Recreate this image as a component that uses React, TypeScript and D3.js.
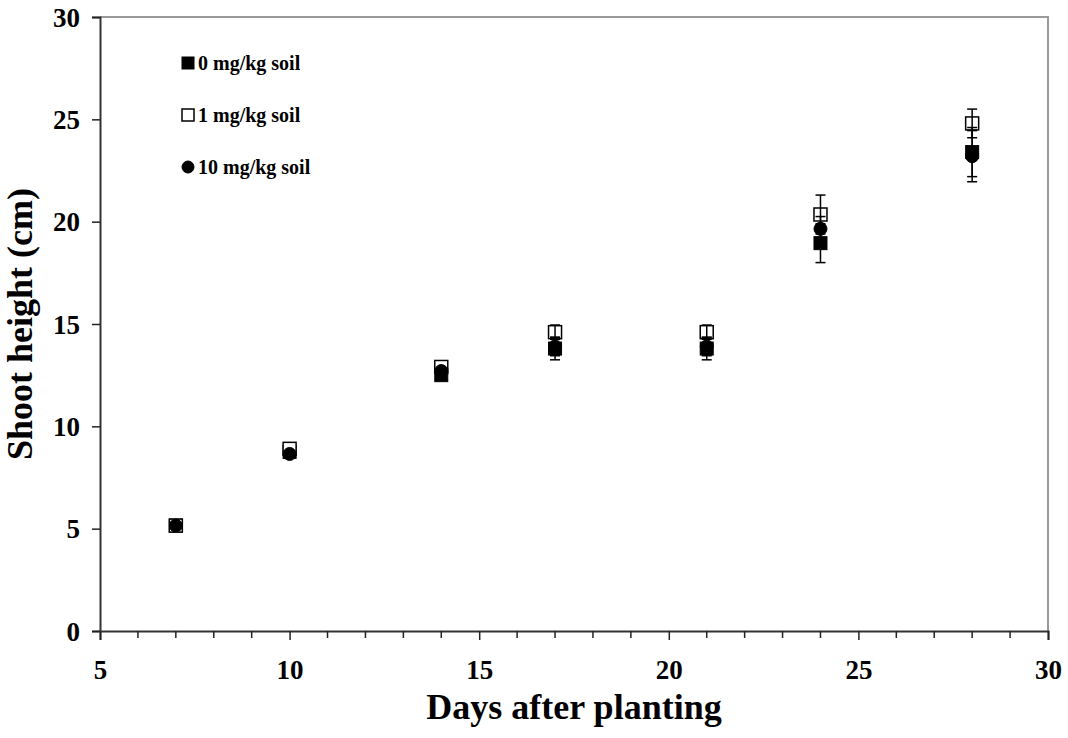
import React, {useEffect, useRef} from 'react';
import * as d3 from 'd3';

// days after planting
const days = [7, 10, 14, 17, 21, 24, 28];

// shoot height (cm) per treatment
const mean0 = [5.15, 8.75, 12.5, 13.8, 13.8, 18.95, 23.4];
const sd0 = [0, 0, 0, 0.55, 0.55, 0.95, 1.2];
const mean1 = [5.15, 8.9, 12.9, 14.6, 14.6, 20.35, 24.8];
const sd1 = [0, 0, 0, 0.35, 0.35, 0.95, 0.7];
const mean10 = [5.15, 8.65, 12.7, 13.9, 13.9, 19.65, 23.2];
const sd10 = [0, 0, 0, 0.45, 0.45, 0.6, 1.25];

const legendLabels = ["0 mg/kg soil", "1 mg/kg soil", "10 mg/kg soil"];
const xTicks = [5, 10, 15, 20, 25, 30];
const yTicks = [0, 5, 10, 15, 20, 25, 30];

function App() {

    const svgRef = useRef<SVGSVGElement>(null);

    const width = 1068;
    const height = 738;
    const left = 100, right = 1048, top = 17, bottom = 631;
    const font = '"Liberation Serif", "Times New Roman", serif';

    useEffect(() => {
        const svg = d3.select(svgRef.current);
        svg.selectAll("*").remove();

        const xScale = d3.scaleLinear().domain([5, 30]).range([left, right]);
        const yScale = d3.scaleLinear().domain([0, 30]).range([bottom, top]);

        // plot frame (top/right light gray)
        svg.append("path")
            .attr("d", `M${left},${top}H${right}V${bottom}`)
            .attr("fill", "none")
            .attr("stroke", "#9a9a9a")
            .attr("stroke-width", 2);

        // x axis, minor ticks every day
        const xAxis = d3.axisBottom(xScale)
            .tickValues(xTicks)
            .tickSize(9)
            .tickFormat(d3.format("d"));
        const gx = svg.append("g")
            .attr("transform", "translate(0," + bottom + ")")
            .call(xAxis);
        gx.selectAll(".tick line").attr("stroke", "#222").attr("stroke-width", 1.5);
        gx.select(".domain").attr("stroke", "#333").attr("stroke-width", 2);
        gx.selectAll(".tick text")
            .attr("dy", "0")
            .attr("y", 48)
            .attr("font-family", font)
            .attr("font-weight", "bold")
            .attr("font-size", 27)
            .attr("fill", "#000");
        gx.selectAll(".minor")
            .data(d3.range(6, 30).filter(d => d % 5 !== 0))
            .join("line")
            .attr("x1", d => xScale(d))
            .attr("x2", d => xScale(d))
            .attr("y1", 0)
            .attr("y2", 7)
            .attr("stroke", "#222")
            .attr("stroke-width", 1.5);

        // y axis
        const yAxis = d3.axisLeft(yScale)
            .tickValues(yTicks)
            .tickSize(8)
            .tickFormat(d3.format("d"));
        const gy = svg.append("g")
            .attr("transform", "translate(" + left + ",0)")
            .call(yAxis);
        gy.selectAll(".tick line").attr("stroke", "#222").attr("stroke-width", 1.5);
        gy.select(".domain").attr("stroke", "#333").attr("stroke-width", 2);
        gy.selectAll(".tick text")
            .attr("x", -20)
            .attr("dy", "0.34em")
            .attr("font-family", font)
            .attr("font-weight", "bold")
            .attr("font-size", 27)
            .attr("fill", "#000");

        // axis titles
        svg.append("text")
            .attr("x", (left + right) / 2)
            .attr("y", 719)
            .attr("text-anchor", "middle")
            .attr("font-family", font)
            .attr("font-weight", "bold")
            .attr("font-size", 36)
            .text("Days after planting");

        svg.append("text")
            .attr("transform", "translate(32," + (top + bottom) / 2 + ") rotate(-90)")
            .attr("text-anchor", "middle")
            .attr("font-family", font)
            .attr("font-weight", "bold")
            .attr("font-size", 36)
            .text("Shoot height (cm)");

        const series = [
            {mean: mean0, sd: sd0, shape: "square", fill: "#000"},
            {mean: mean1, sd: sd1, shape: "square", fill: "#fff"},
            {mean: mean10, sd: sd10, shape: "circle", fill: "#000"},
        ];

        // markers
        const drawMarker = (g: any, shape: string, fill: string, x: number, y: number, size: number) => {
            if (shape === "circle") {
                g.append("circle").attr("cx", x).attr("cy", y).attr("r", size / 2)
                    .attr("fill", fill).attr("stroke", "#000").attr("stroke-width", 1);
            } else {
                g.append("rect").attr("x", x - size / 2).attr("y", y - size / 2)
                    .attr("width", size).attr("height", size)
                    .attr("fill", fill).attr("stroke", "#000").attr("stroke-width", fill === "#fff" ? 1.5 : 1);
            }
        };

        series.forEach(s => {
            const g = svg.append("g");
            days.forEach((d, i) => drawMarker(g, s.shape, s.fill, xScale(d), yScale(s.mean[i]), 13));
        });

        // error bars (drawn over the markers)
        series.forEach(s => {
            const g = svg.append("g");
            days.forEach((d, i) => {
                if (s.sd[i] <= 0) return;
                const x = xScale(d);
                const y1 = yScale(s.mean[i] - s.sd[i]);
                const y2 = yScale(s.mean[i] + s.sd[i]);
                g.append("line").attr("x1", x).attr("x2", x).attr("y1", y1).attr("y2", y2)
                    .attr("stroke", "#000").attr("stroke-width", 1.5);
                [y1, y2].forEach(y => {
                    g.append("line").attr("x1", x - 5).attr("x2", x + 5).attr("y1", y).attr("y2", y)
                        .attr("stroke", "#000").attr("stroke-width", 1.5);
                });
            });
        });

        // legend
        const lg = svg.append("g");
        series.forEach((s, i) => {
            const y = 63 + i * 52;
            drawMarker(lg, s.shape, s.fill, 188, y, 12);
            lg.append("text")
                .attr("x", 198)
                .attr("y", y + 7)
                .attr("font-family", font)
                .attr("font-weight", "bold")
                .attr("font-size", 20)
                .text(legendLabels[i]);
        });

    }, []);

    return (
        <svg ref={svgRef} width={width} height={height} style={{position: "absolute", left: 0, top: 0}}></svg>
    );
}

export default App;
